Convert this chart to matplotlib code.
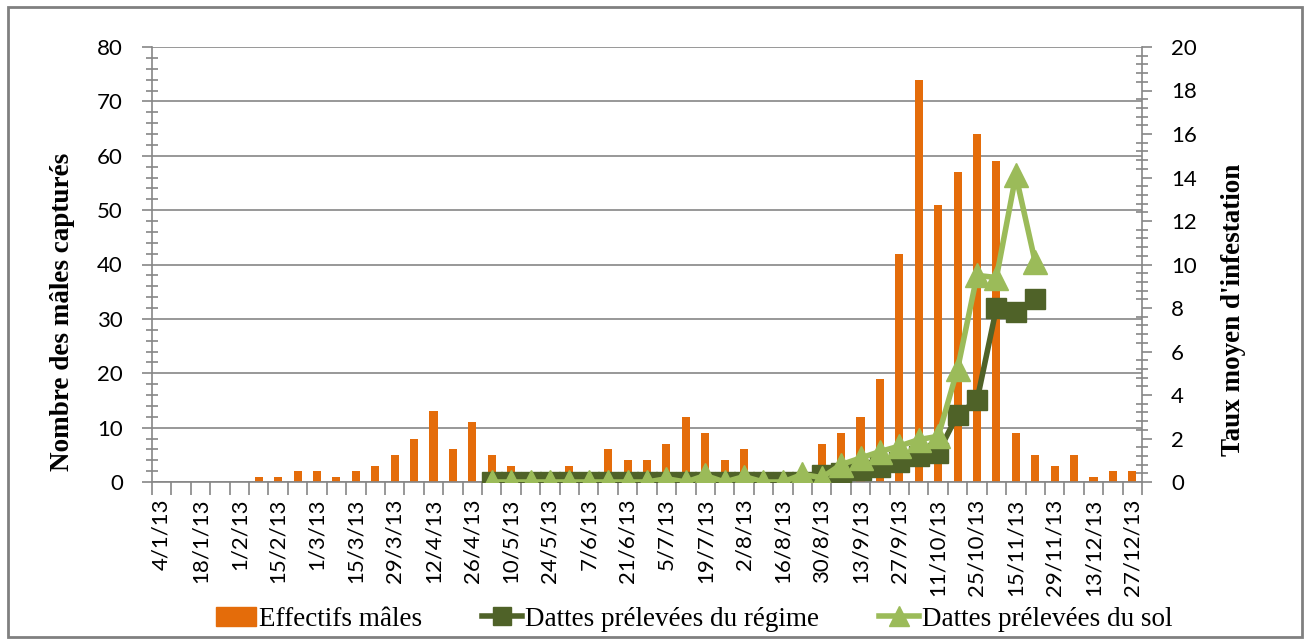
import numpy as np
import matplotlib
matplotlib.use('Agg')
import matplotlib.pyplot as plt
from matplotlib.patches import Rectangle
from matplotlib.lines import Line2D
from matplotlib.ticker import MultipleLocator

# Dates hebdomadaires de piégeage (2013)
dates = ['4/1/13', '11/1/13', '18/1/13', '25/1/13', '1/2/13', '8/2/13', '15/2/13', '22/2/13',
         '1/3/13', '8/3/13', '15/3/13', '22/3/13', '29/3/13', '5/4/13', '12/4/13', '19/4/13',
         '26/4/13', '3/5/13', '10/5/13', '17/5/13', '24/5/13', '31/5/13', '7/6/13', '14/6/13',
         '21/6/13', '28/6/13', '5/7/13', '12/7/13', '19/7/13', '26/7/13', '2/8/13', '9/8/13',
         '16/8/13', '23/8/13', '30/8/13', '6/9/13', '13/9/13', '20/9/13', '27/9/13', '4/10/13',
         '11/10/13', '18/10/13', '25/10/13', '1/11/13', '15/11/13', '22/11/13', '29/11/13',
         '6/12/13', '13/12/13', '20/12/13', '27/12/13']

# Effectifs mâles capturés
males = [0, 0, 0, 0, 0, 1, 1, 2, 2, 1, 2, 3, 5, 8, 13, 6, 11, 5, 3, 0,
         0, 3, 1, 6, 4, 4, 7, 12, 9, 4, 6, 0, 0, 2, 7, 9, 12, 19, 42, 74,
         51, 57, 64, 59, 9, 5, 3, 5, 1, 2, 2]

nan = np.nan
# Taux moyen d'infestation - dattes prélevées du régime
regime = [nan] * 17 + [0] * 16 + [0, 0.3, 0.4, 0.55, 0.7, 0.9, 1.2, 1.35, 3.1, 3.75, 8.0, 7.8, 8.4] + [nan] * 5
# Taux moyen d'infestation - dattes prélevées du sol
sol = [nan] * 17 + [0, 0, 0, 0, 0, 0, 0, 0, 0, 0.15, 0, 0.3, 0, 0.25, 0, 0,
                    0.35, 0.2, 0.8, 1.1, 1.4, 1.65, 1.95, 2.1, 5.2, 9.5, 9.4, 14.1, 10.1] + [nan] * 5

orange = '#E46C0A'
vert_fonce = '#4F6228'
vert_clair = '#9BBB59'
gris = '#868686'

fig = plt.figure(figsize=(13.07, 6.44), dpi=100)
fig.patches.append(Rectangle((8 / 1307, 7 / 644), 1294 / 1307, 630 / 644, transform=fig.transFigure,
                             fill=False, edgecolor='#808080', linewidth=2))

ax = fig.add_axes([152 / 1307, 1 - 482 / 644, (1142 - 152) / 1307, (482 - 47) / 644])
ax2 = ax.twinx()

x = np.arange(len(dates))
ax.bar(x, males, width=0.42, color=orange, zorder=2)

ax2.plot(x, regime, color=vert_fonce, lw=4, marker='s', markersize=15, zorder=3)
ax2.plot(x, sol, color=vert_clair, lw=4, marker='^', markersize=17, zorder=4)

ax.set_xlim(-0.5, len(dates) - 0.5)
ax.set_ylim(0, 80)
ax2.set_ylim(0, 20)

tick_font = dict(family='Lato', size=16)
ax.set_xticks(x[::2])
ax.set_xticklabels(dates[::2], rotation=90, **tick_font)
ax.set_xticks(np.arange(-0.5, len(dates), 1), minor=True)
ax.tick_params(axis='x', which='major', length=0, pad=12)
ax.tick_params(axis='x', which='minor', length=9, width=1.2, color=gris, direction='out')

ax.yaxis.set_major_locator(MultipleLocator(10))
ax.yaxis.set_minor_locator(MultipleLocator(2))
ax.tick_params(axis='y', which='major', length=7, width=1.2, color=gris, pad=14, labelsize=16)
ax.tick_params(axis='y', which='minor', length=9, width=1.2, color=gris, direction='inout')
for t in ax.get_yticklabels():
    t.set_family('Lato')

ax2.yaxis.set_major_locator(MultipleLocator(2))
ax2.yaxis.set_minor_locator(MultipleLocator(0.4))
ax2.tick_params(axis='y', which='major', length=7, width=1.2, color=gris, pad=14, labelsize=16)
ax2.tick_params(axis='y', which='minor', length=9, width=1.2, color=gris, direction='inout')
for t in ax2.get_yticklabels():
    t.set_family('Lato')

ax.grid(axis='y', which='major', color=gris, lw=1.2, zorder=0)
ax.set_axisbelow(True)

for a in (ax, ax2):
    a.spines['top'].set_visible(False)
    for s in ('left', 'right', 'bottom'):
        a.spines[s].set_color(gris)
        a.spines[s].set_linewidth(1.2)
ax.spines['right'].set_visible(False)
ax2.spines['left'].set_visible(False)
ax2.spines['bottom'].set_visible(False)

# titres des axes, placés à la main
label_font = dict(family='Liberation Serif', size=19.5, fontweight='bold')
fig.text(63 / 1307, 1 - 312 / 644, 'Nombre des mâles capturés', rotation=90,
         ha='center', va='center', **label_font)
fig.text(1233 / 1307, 1 - 310 / 644, "Taux moyen d'infestation", rotation=90,
         ha='center', va='center', **label_font)

handles = [Rectangle((0, 0), 1, 1, color=orange),
           Line2D([], [], color=vert_fonce, lw=4, marker='s', markersize=13),
           Line2D([], [], color=vert_clair, lw=4, marker='^', markersize=14)]
fig.legend(handles, ['Effectifs mâles', 'Dattes prélevées du régime', 'Dattes prélevées du sol'],
           loc='center', bbox_to_anchor=(694 / 1307, 1 - 619 / 644), ncol=3, frameon=False,
           prop=dict(family='Liberation Serif', size=19.5), handlelength=1.5, handletextpad=0.1,
           columnspacing=2.2)

fig.savefig('out.png', dpi=100)
